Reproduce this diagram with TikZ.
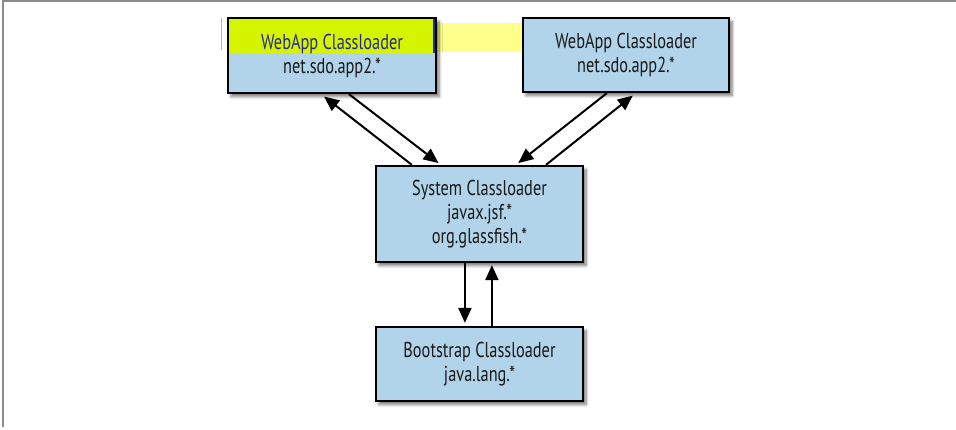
\documentclass[tikz,border=0pt]{standalone}
\usepackage{fontspec}
\setmainfont[FakeStretch=0.76]{PT Sans}
\usetikzlibrary{arrows.meta,calc,shadows.blur}
\definecolor{boxblue}{RGB}{178,212,234}
\definecolor{hlgreen}{RGB}{212,244,0}
\definecolor{hlyellow}{RGB}{255,255,140}
\definecolor{framegray}{RGB}{140,140,140}
\definecolor{txtblue}{RGB}{40,40,150}
\definecolor{txtdark}{RGB}{25,25,25}
\tikzset{
  loader/.style={draw=black, line width=2.2pt, fill=boxblue, rectangle,
    inner sep=0pt, align=center, font=\fontsize{21.5}{24}\selectfont, text=txtdark,
    blur shadow={shadow xshift=3pt, shadow yshift=-3.5pt, shadow blur steps=6, shadow blur radius=3pt, shadow opacity=55}},
  conn/.style={line width=2pt, -{Triangle[length=15pt,width=13pt]}},
}
\begin{document}
\begin{tikzpicture}[x=1pt,y=-1pt]
\useasboundingbox (0,0) rectangle (956,430);
% frame
\draw[framegray, line width=2pt] (3,427) -- (3,1.5) -- (956,1.5);
% pale selection band
\fill[hlyellow] (436,23) rectangle (523,52);
\draw[gray!60, line width=1pt] (221,18) -- (221,50);
% boxes
\node[loader, minimum width=208pt, minimum height=75pt,
  path picture={\fill[hlgreen] (path picture bounding box.north west) rectangle ([yshift=-35pt]path picture bounding box.north east);
  \draw[txtblue, line width=1.2pt] ([xshift=-2pt]path picture bounding box.north east) -- ([xshift=-2pt,yshift=-35pt]path picture bounding box.north east);}]
  (wa1) at (332,55.5) {\textcolor{txtblue}{WebApp Classloader}\\net.sdo.app2.*};
\node[loader, minimum width=206pt, minimum height=74pt] (wa2) at (626,55) {WebApp Classloader\\net.sdo.app2.*};
\node[loader, minimum width=207pt, minimum height=96pt] (sys) at (479.5,214) {System Classloader\\javax.jsf.*\\org.glassfish.*};
\node[loader, minimum width=207pt, minimum height=74pt] (boot) at (479.5,364) {Bootstrap Classloader\\java.lang.*};
% connectors
\draw[conn, shorten >=4pt] ($(sys.north west)+(37,0)$) -- ($(wa1.south west)+(94,0)$);
\draw[conn, shorten >=3pt] ($(wa1.south west)+(122,0)$) -- ($(sys.north west)+(66,0)$);
\draw[conn, shorten >=3pt] ($(wa2.south west)+(85,0)$) -- ($(sys.north west)+(141,0)$);
\draw[conn, shorten >=4pt] ($(sys.north west)+(171,0)$) -- ($(wa2.south west)+(114,0)$);
\draw[conn, shorten >=3pt] ($(sys.south west)+(90,0)$) -- ($(boot.north west)+(90,0)$);
\draw[conn, shorten >=2pt] ($(boot.north west)+(117,0)$) -- ($(sys.south west)+(117,0)$);
\end{tikzpicture}
\end{document}
